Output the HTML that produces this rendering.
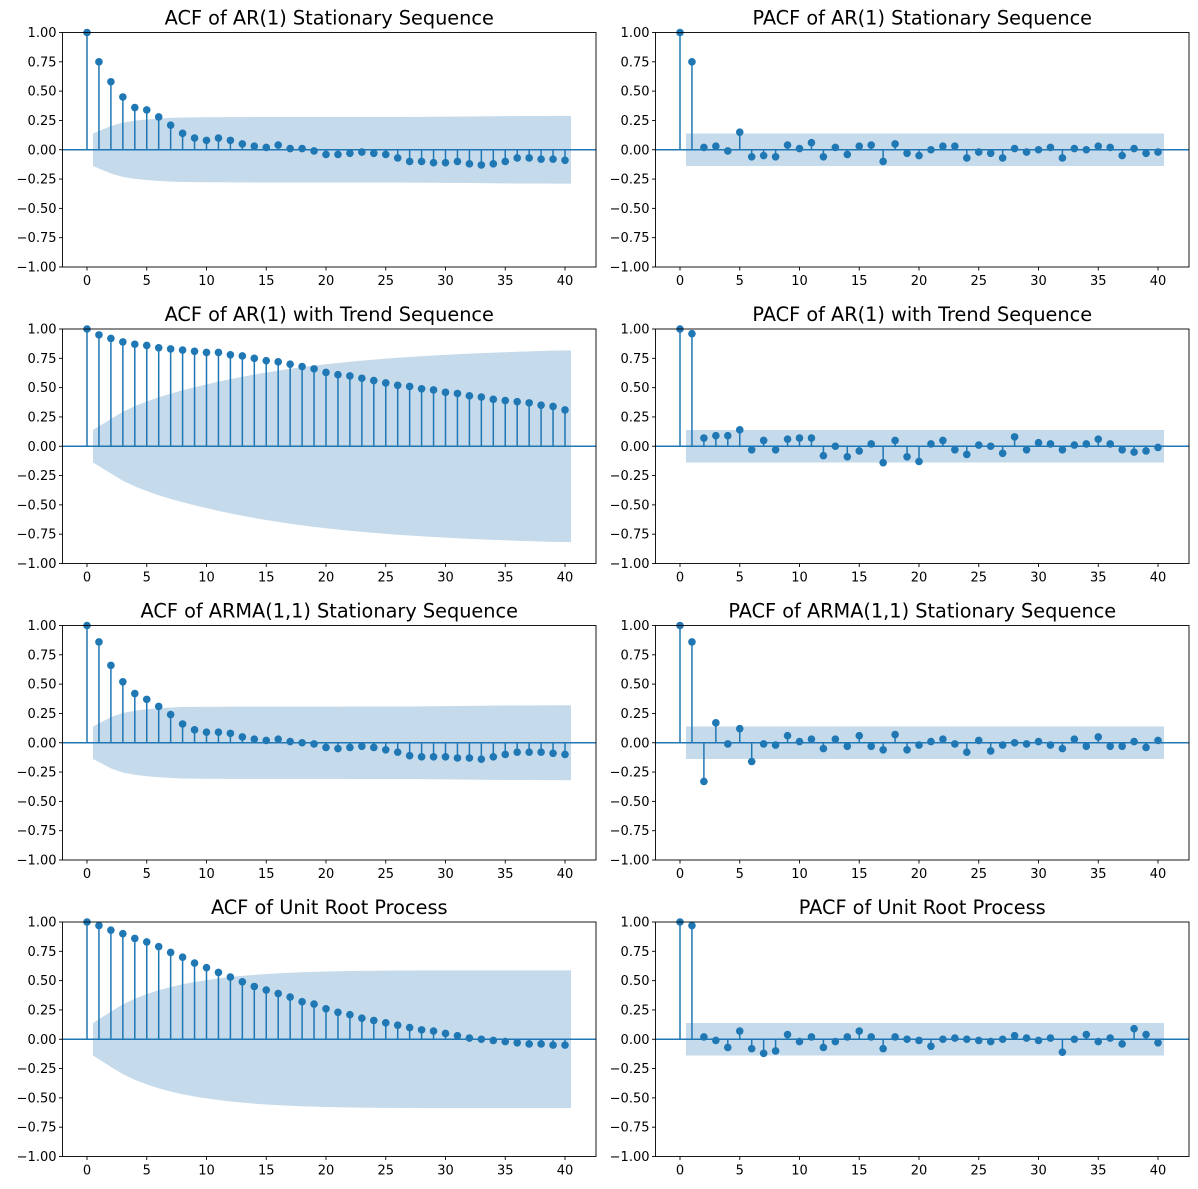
<!DOCTYPE html>
<html><head><meta charset="utf-8"><style>body{margin:0;background:#fff}svg{display:block}text{font-family:"DejaVu Sans","Liberation Sans",sans-serif}</style></head>
<body><svg id="s" width="1198" height="1189" xmlns="http://www.w3.org/2000/svg"></svg>
<script>
const D={
a1:[1,.75,.58,.45,.36,.34,.28,.21,.14,.10,.08,.10,.08,.05,.03,.02,.04,.01,.01,-.01,-.04,-.04,-.03,-.02,-.03,-.04,-.07,-.10,-.10,-.11,-.11,-.10,-.12,-.13,-.12,-.10,-.07,-.07,-.08,-.08,-.09],
a2:[1,.95,.92,.89,.87,.86,.84,.83,.82,.81,.80,.80,.78,.77,.75,.73,.72,.70,.68,.66,.63,.61,.60,.58,.56,.54,.52,.51,.49,.48,.46,.45,.43,.42,.40,.39,.38,.37,.35,.34,.31],
a3:[1,.86,.66,.52,.42,.37,.31,.24,.16,.11,.09,.09,.08,.05,.03,.02,.03,.01,0,-.01,-.04,-.05,-.04,-.03,-.04,-.06,-.08,-.11,-.12,-.12,-.12,-.13,-.13,-.14,-.12,-.10,-.08,-.08,-.08,-.09,-.10],
a4:[1,.97,.93,.90,.86,.83,.79,.74,.70,.65,.61,.57,.53,.49,.45,.42,.39,.36,.32,.30,.26,.23,.21,.18,.16,.14,.12,.10,.08,.07,.05,.03,.01,0,-.01,-.02,-.03,-.04,-.04,-.05,-.05],
p1:[1,.75,.02,.03,-.01,.15,-.06,-.05,-.06,.04,.01,.06,-.06,.02,-.04,.03,.04,-.10,.05,-.03,-.05,0,.03,.03,-.07,-.02,-.03,-.07,.01,-.02,0,.02,-.07,.01,0,.03,.02,-.05,.01,-.03,-.02],
p2:[1,.96,.07,.09,.09,.14,-.03,.05,-.03,.06,.07,.07,-.08,0,-.09,-.04,.02,-.14,.05,-.09,-.13,.02,.05,-.03,-.07,.01,0,-.06,.08,-.03,.03,.02,-.03,.01,.02,.06,.02,-.03,-.05,-.04,-.01],
p3:[1,.86,-.33,.17,-.01,.12,-.16,-.01,-.02,.06,.01,.03,-.05,.03,-.03,.06,-.03,-.06,.07,-.06,-.02,.01,.03,-.01,-.08,.02,-.07,-.02,0,-.01,.01,-.02,-.05,.03,-.03,.05,-.03,-.03,.01,-.04,.02],
p4:[1,.97,.02,-.01,-.07,.07,-.08,-.12,-.10,.04,-.02,.02,-.07,-.02,.02,.07,.02,-.08,.02,0,-.01,-.06,0,.01,0,-.01,-.02,0,.03,.01,-.01,.01,-.11,0,.04,-.02,.01,-.04,.09,.04,-.03]};
const T=[["ACF of AR(1) Stationary Sequence","PACF of AR(1) Stationary Sequence","a1","p1"],
["ACF of AR(1) with Trend Sequence","PACF of AR(1) with Trend Sequence","a2","p2"],
["ACF of ARMA(1,1) Stationary Sequence","PACF of ARMA(1,1) Stationary Sequence","a3","p3"],
["ACF of Unit Root Process","PACF of Unit Root Process","a4","p4"]];
let h='';const C='#1f77b4',N=200;
function panel(x0,y0,title,d,acf){
 const w=533.5,H=234.5,sx=11.95,lx=x=>x0+24.5+x*sx,ly=v=>y0+H/2-v*H/2;
 let up=[];
 for(let k=1;k<=40;k++){let b;if(acf){let s=0;for(let j=1;j<k;j++)s+=d[j]*d[j];b=1.96*Math.sqrt((1+2*s)/N);}else b=1.96/Math.sqrt(N);up.push([k,b]);}
 let pts=[];
 up.forEach(([k,b])=>{const xx=k===1?0.5:(k===40?40.5:k);pts.push(lx(xx)+','+ly(b));});
 for(let i=up.length-1;i>=0;i--){const [k,b]=up[i];const xx=k===1?0.5:(k===40?40.5:k);pts.push(lx(xx)+','+ly(-b));}
 h+=`<polygon points="${pts.join(' ')}" fill="#c5daeb"/>`;
 h+=`<line x1="${x0}" x2="${x0+w}" y1="${ly(0)}" y2="${ly(0)}" stroke="${C}" stroke-width="1.5"/>`;
 d.forEach((v,k)=>{h+=`<line x1="${lx(k)}" x2="${lx(k)}" y1="${ly(0)}" y2="${ly(v)}" stroke="${C}" stroke-width="1.5"/><circle cx="${lx(k)}" cy="${ly(v)}" r="3.8" fill="${C}"/>`;});
 h+=`<rect x="${x0}" y="${y0}" width="${w}" height="${H}" fill="none" stroke="#000" stroke-width="0.9"/>`;
 for(let i=0;i<=8;i++){const v=-1+i*.25,y=ly(v);h+=`<line x1="${x0-3.5}" x2="${x0}" y1="${y}" y2="${y}" stroke="#000" stroke-width="0.9"/><text x="${x0-6}" y="${y+4.5}" font-size="13" text-anchor="end">${v<0?'\u2212':''}${Math.abs(v).toFixed(2)}</text>`;}
 for(let k=0;k<=40;k+=5){const x=lx(k);h+=`<line x1="${x}" x2="${x}" y1="${y0+H}" y2="${y0+H+3.5}" stroke="#000" stroke-width="0.9"/><text x="${x}" y="${y0+H+18}" font-size="13" text-anchor="middle">${k}</text>`;}
 h+=`<text x="${x0+w/2}" y="${y0-8}" font-size="19.3" text-anchor="middle">${title}</text>`;
}
T.forEach((t,r)=>{const y0=32.5+r*296.5;panel(62.5,y0,t[0],D[t[2]],true);panel(655.5,y0,t[1],D[t[3]],false);});
document.getElementById('s').innerHTML=h;
</script></body></html>
